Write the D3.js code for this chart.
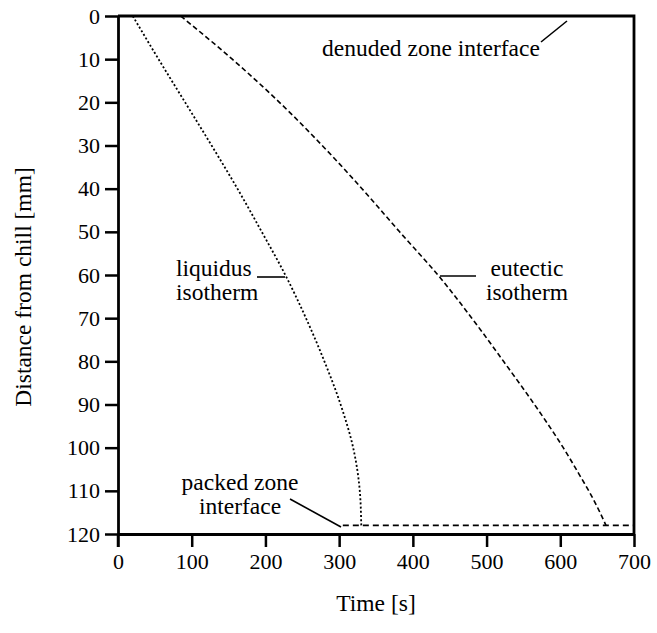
<!DOCTYPE html>
<html>
<head>
<meta charset="utf-8">
<script src="https://cdn.jsdelivr.net/npm/d3@7"></script>
<style>
  html, body { margin: 0; padding: 0; background: #fff; }
  svg { display: block; }
  svg text { font-family: "Liberation Serif", "Times New Roman", Times, serif; fill: #000; }
</style>
</head>
<body>
<svg id="chart" width="657" height="633" font-family="Liberation Serif"></svg>
<script>
// Axis ticks
const timeTicks = [0, 100, 200, 300, 400, 500, 600, 700];
const depthTicks = [0, 10, 20, 30, 40, 50, 60, 70, 80, 90, 100, 110, 120];

// Liquidus isotherm position: time [s] vs distance from chill [mm]
const liquidusTime  = [20, 55, 91, 127, 162, 195, 227, 255, 280, 302, 319, 328, 330];
const liquidusDepth = [0, 10, 20, 30, 40, 50, 60, 70, 80, 90, 100, 110, 118];

// Eutectic isotherm position
const eutecticTime  = [85, 155, 219, 277, 331, 382, 434, 480, 523, 565, 604, 625, 645, 662];
const eutecticDepth = [0, 10, 20, 30, 40, 50, 60, 70, 80, 90, 100, 106, 112, 118];

// Interfaces
const packedTime  = [305, 700];
const packedDepth = [118, 118];
const denudedTime  = [85, 700];
const denudedDepth = [0, 0];

const margin = { left: 118, right: 23, top: 16, bottom: 99 };
const W = 657, H = 633;
const svg = d3.select("#chart");
const serif = "'Liberation Serif', 'Times New Roman', Times, serif";

const x = d3.scaleLinear().domain([0, 700]).range([margin.left, W - margin.right]);
const y = d3.scaleLinear().domain([0, 120]).range([margin.top, H - margin.bottom]);

const zip = (ts, ds) => ts.map((t, i) => ({ t, d: ds[i] }));
const smooth = d3.line().x(p => x(p.t)).y(p => y(p.d)).curve(d3.curveMonotoneY);
const straight = d3.line().x(p => x(p.t)).y(p => y(p.d));

// Curves
svg.append("path").datum(zip(liquidusTime, liquidusDepth)).attr("d", smooth)
  .attr("fill", "none").attr("stroke", "#000").attr("stroke-width", 1.8)
  .attr("stroke-dasharray", "2,2.2");
svg.append("path").datum(zip(eutecticTime, eutecticDepth)).attr("d", smooth)
  .attr("fill", "none").attr("stroke", "#000").attr("stroke-width", 1.6)
  .attr("stroke-dasharray", "5,3");
svg.append("path").datum(zip(packedTime, packedDepth)).attr("d", straight)
  .attr("fill", "none").attr("stroke", "#000").attr("stroke-width", 1.6)
  .attr("stroke-dasharray", "6,4");
svg.append("path").datum(zip(denudedTime, denudedDepth)).attr("d", straight)
  .attr("fill", "none").attr("stroke", "#000").attr("stroke-width", 1.4)
  .attr("stroke-dasharray", "6,3");

// Frame (top and right edges)
svg.append("path")
  .attr("d", `M${x(0)},${y(0)}H${x(700)}V${y(120)}`)
  .attr("fill", "none").attr("stroke", "#000").attr("stroke-width", 2.8);

// Bottom axis
const xAxis = d3.axisBottom(x).tickValues(timeTicks).tickSize(13).tickPadding(6).tickSizeOuter(0);
const gx = svg.append("g").attr("transform", `translate(0,${y(120)})`).call(xAxis)
  .attr("font-family", serif);
gx.select(".domain").attr("stroke-width", 2.8);
gx.selectAll(".tick line").attr("stroke-width", 2.5);
gx.selectAll(".tick text").attr("font-size", 22);

// Left axis
const yAxis = d3.axisLeft(y).tickValues(depthTicks).tickSize(13).tickPadding(5).tickSizeOuter(0);
const gy = svg.append("g").attr("transform", `translate(${x(0)},0)`).call(yAxis)
  .attr("font-family", serif);
gy.select(".domain").attr("stroke-width", 2.8);
gy.selectAll(".tick line").attr("stroke-width", 2.5);
gy.selectAll(".tick text").attr("font-size", 22);
// the left axis runs down through the x=0 tick
svg.append("line")
  .attr("x1", x(0)).attr("x2", x(0)).attr("y1", y(120)).attr("y2", y(120) + 13)
  .attr("stroke", "#000").attr("stroke-width", 2.5);

// Annotations
const fs = 23.5;
function label(lines, xPos, yPos, anchor) {
  const t = svg.append("text").attr("font-size", fs).attr("font-family", serif)
    .attr("text-anchor", anchor || "start");
  lines.forEach((s, i) => t.append("tspan").attr("x", xPos).attr("y", yPos + i * 24).text(s));
}
function pointer(x1, y1, x2, y2) {
  svg.append("line").attr("x1", x1).attr("y1", y1).attr("x2", x2).attr("y2", y2)
    .attr("stroke", "#000").attr("stroke-width", 1.6);
}

label(["denuded zone interface"], 322, 56);
pointer(541, 42, 567, 21);

label(["liquidus", "isotherm"], 176, 276);
pointer(257, 277, 285, 277);

label(["eutectic", "isotherm"], 527, 276, "middle");
pointer(440, 276, 476, 276);

label(["packed zone", "interface"], 240, 490, "middle");
pointer(290, 499, 341, 527);

// Axis titles
svg.append("text").attr("font-size", fs).attr("font-family", serif).attr("text-anchor", "middle")
  .attr("x", (x(0) + x(700)) / 2).attr("y", 611).text("Time [s]");
svg.append("text").attr("font-size", fs).attr("font-family", serif).attr("text-anchor", "middle")
  .attr("transform", "translate(31,287) rotate(-90)")
  .text("Distance from chill [mm]");
</script>
</body>
</html>
